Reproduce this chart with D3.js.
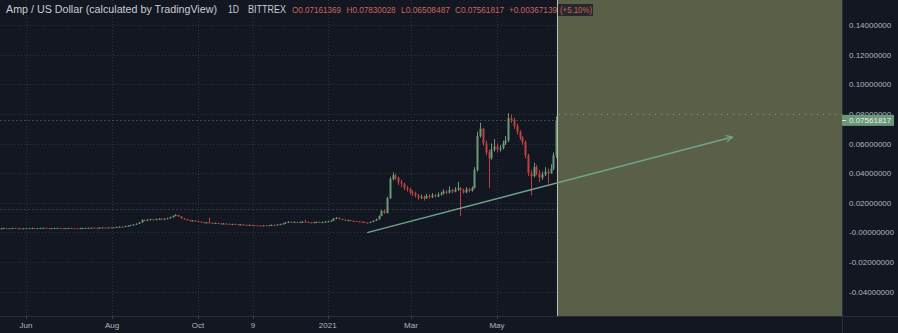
<!DOCTYPE html>
<html>
<head>
<meta charset="utf-8">
<script src="https://cdn.jsdelivr.net/npm/d3@7"></script>
<style>
  html, body { margin: 0; padding: 0; background: #131722; }
  svg { display: block; font-family: "Liberation Sans", Arial, sans-serif; }
</style>
</head>
<body>
<svg id="chart" width="898" height="333"></svg>
<script>
// AMP/USD daily chart (Bittrex), shown here as 2-day candles
// open of each candle = previous close

const startDate = "2020-05-14";
const stepDays = 2;
const firstOpen = 0.0027;

const closes = [
  0.0027,0.0028,0.0026,0.0027,0.0029,0.0028,0.0027,0.0026,0.0027,0.0028,
  0.0028,0.0029,0.0027,0.0028,0.0029,0.0030,0.0028,0.0027,0.0028,0.0029,
  0.0029,0.0028,0.0027,0.0028,0.0029,0.0028,0.0027,0.0026,0.0028,0.0029,
  0.0029,0.0030,0.0031,0.0030,0.0029,0.0031,0.0032,0.0031,0.0033,0.0032,
  0.0034,0.0036,0.0038,0.0037,0.0042,0.0045,0.0049,0.0052,0.0058,0.0066,
  0.0083,0.0078,0.0085,0.0088,0.0084,0.0089,0.0092,0.0087,0.0091,0.0095,
  0.0102,0.0110,0.0117,0.0108,0.0095,0.0088,0.0082,0.0078,0.0080,0.0076,
  0.0072,0.0068,0.0065,0.0067,0.0064,0.0062,0.0063,0.0060,0.0058,0.0059,
  0.0057,0.0055,0.0056,0.0054,0.0052,0.0053,0.0050,0.0049,0.0050,0.0048,
  0.0047,0.0046,0.0045,0.0047,0.0046,0.0048,0.0050,0.0049,0.0052,0.0055,
  0.0060,0.0066,0.0071,0.0068,0.0070,0.0066,0.0069,0.0072,0.0070,0.0067,
  0.0065,0.0068,0.0070,0.0066,0.0069,0.0072,0.0075,0.0079,0.0093,0.0098,
  0.0090,0.0085,0.0080,0.0082,0.0078,0.0076,0.0074,0.0072,0.0070,0.0066,
  0.0064,0.0070,0.0078,0.0088,0.0110,0.0145,0.0130,0.0230,0.0360,0.0385,
  0.0370,0.0340,0.0330,0.0300,0.0290,0.0270,0.0265,0.0250,0.0235,0.0240,
  0.0230,0.0245,0.0238,0.0250,0.0242,0.0255,0.0262,0.0275,0.0268,0.0285,
  0.0275,0.0290,0.0300,0.0285,0.0270,0.0290,0.0280,0.0300,0.0420,0.0650,
  0.0700,0.0600,0.0540,0.0500,0.0560,0.0580,0.0560,0.0570,0.0600,0.0620,
  0.0770,0.0760,0.0720,0.0680,0.0640,0.0610,0.0520,0.0400,0.0380,0.0440,
  0.0400,0.0370,0.0390,0.0410,0.0400,0.0430,0.0520,0.0756
];

const highs = [
  0.0030,0.0031,0.0030,0.0029,0.0031,0.0031,0.0030,0.0029,0.0029,0.0030,
  0.0030,0.0031,0.0030,0.0030,0.0031,0.0032,0.0031,0.0029,0.0030,0.0031,
  0.0031,0.0031,0.0029,0.0030,0.0031,0.0031,0.0029,0.0028,0.0030,0.0031,
  0.0031,0.0032,0.0033,0.0033,0.0031,0.0033,0.0034,0.0034,0.0035,0.0035,
  0.0036,0.0038,0.0040,0.0040,0.0044,0.0047,0.0051,0.0055,0.0060,0.0070,
  0.0088,0.0087,0.0088,0.0091,0.0090,0.0092,0.0095,0.0094,0.0094,0.0098,
  0.0106,0.0114,0.0122,0.0119,0.0110,0.0097,0.0090,0.0084,0.0083,0.0082,
  0.0077,0.0074,0.0070,0.0070,0.0097,0.0066,0.0066,0.0065,0.0062,0.0062,
  0.0061,0.0059,0.0058,0.0058,0.0056,0.0056,0.0055,0.0052,0.0052,0.0052,
  0.0050,0.0049,0.0048,0.0049,0.0049,0.0050,0.0053,0.0052,0.0054,0.0058,
  0.0063,0.0069,0.0074,0.0073,0.0073,0.0072,0.0072,0.0075,0.0085,0.0072,
  0.0069,0.0071,0.0073,0.0072,0.0072,0.0075,0.0078,0.0082,0.0096,0.0102,
  0.0099,0.0092,0.0087,0.0085,0.0084,0.0080,0.0078,0.0076,0.0074,0.0072,
  0.0068,0.0073,0.0081,0.0092,0.0115,0.0150,0.0152,0.0240,0.0375,0.0405,
  0.0395,0.0375,0.0355,0.0335,0.0315,0.0300,0.0285,0.0275,0.0260,0.0255,
  0.0250,0.0260,0.0258,0.0265,0.0260,0.0270,0.0275,0.0290,0.0285,0.0310,
  0.0295,0.0305,0.0340,0.0305,0.0295,0.0305,0.0300,0.0310,0.0440,0.0680,
  0.0740,0.0705,0.0620,0.0560,0.0600,0.0630,0.0600,0.0590,0.0620,0.0650,
  0.0805,0.0795,0.0775,0.0735,0.0690,0.0650,0.0620,0.0530,0.0420,0.0470,
  0.0455,0.0420,0.0410,0.0440,0.0430,0.0460,0.0540,0.0783
];

const lows = [
  0.0025,0.0025,0.0024,0.0025,0.0026,0.0026,0.0025,0.0024,0.0025,0.0026,
  0.0026,0.0026,0.0025,0.0026,0.0027,0.0027,0.0026,0.0025,0.0026,0.0027,
  0.0027,0.0026,0.0025,0.0026,0.0027,0.0026,0.0025,0.0024,0.0025,0.0027,
  0.0027,0.0028,0.0029,0.0028,0.0027,0.0028,0.0030,0.0029,0.0030,0.0030,
  0.0031,0.0033,0.0035,0.0035,0.0036,0.0041,0.0044,0.0048,0.0051,0.0056,
  0.0064,0.0075,0.0076,0.0083,0.0081,0.0082,0.0087,0.0084,0.0085,0.0089,
  0.0093,0.0100,0.0108,0.0104,0.0092,0.0085,0.0079,0.0075,0.0075,0.0073,
  0.0069,0.0065,0.0062,0.0063,0.0061,0.0059,0.0060,0.0058,0.0055,0.0056,
  0.0054,0.0052,0.0053,0.0051,0.0050,0.0050,0.0048,0.0046,0.0047,0.0046,
  0.0045,0.0044,0.0043,0.0044,0.0044,0.0045,0.0047,0.0047,0.0048,0.0051,
  0.0054,0.0058,0.0064,0.0066,0.0066,0.0064,0.0064,0.0067,0.0068,0.0065,
  0.0062,0.0063,0.0066,0.0064,0.0064,0.0067,0.0070,0.0073,0.0077,0.0089,
  0.0087,0.0083,0.0077,0.0077,0.0076,0.0073,0.0071,0.0070,0.0067,0.0064,
  0.0061,0.0062,0.0068,0.0076,0.0086,0.0108,0.0125,0.0128,0.0225,0.0350,
  0.0355,0.0320,0.0305,0.0285,0.0275,0.0255,0.0245,0.0235,0.0220,0.0225,
  0.0215,0.0225,0.0228,0.0232,0.0235,0.0238,0.0248,0.0255,0.0258,0.0262,
  0.0265,0.0270,0.0280,0.0110,0.0262,0.0265,0.0270,0.0275,0.0295,0.0410,
  0.0640,0.0585,0.0520,0.0300,0.0490,0.0545,0.0540,0.0545,0.0560,0.0590,
  0.0610,0.0740,0.0700,0.0660,0.0625,0.0590,0.0500,0.0380,0.0250,0.0370,
  0.0385,0.0340,0.0355,0.0380,0.0330,0.0395,0.0420,0.0500
];

// axes
const priceTicks = [0.14, 0.12, 0.10, 0.08, 0.06, 0.04, 0.02, 0, -0.02, -0.04];
const priceTickLabels = ["0.14000000","0.12000000","0.10000000","0.08000000","0.06000000",
  "0.04000000","0.02000000","-0.00000000","-0.02000000","-0.04000000"];
const timeTicks = ["2020-06-01","2020-08-01","2020-10-01","2020-11-09","2021-01-01","2021-03-01","2021-05-01"];
const timeTickLabels = ["Jun","Aug","Oct","9","2021","Mar","May"];

// drawings
const trendLine = [["2021-01-29", -0.0002], ["2021-10-15", 0.0644]];
const supportLevel = 0.0155;
const athLevel = 0.08;
const zoneStart = "2021-06-12T12:00";
const lastPrice = 0.07561817;
const lastPriceLabel = "0.07561817";

// legend line
const titleText = "Amp / US Dollar (calculated by TradingView)";
const intervalText = "1D";
const exchangeText = "BITTREX";
const ohlcLabels = ["O0.07161369", "H0.07830028", "L0.06508487", "C0.07561817", "+0.00367139", "(+5.10%)"];

// ------------------------------------------------------------------
const W = 898, H = 333;
const plotRight = 842, plotBottom = 316;

const parseDay = d3.timeParse("%Y-%m-%d");
const parseTime = d3.timeParse("%Y-%m-%dT%H:%M");

const x = d3.scaleTime()
  .domain([parseDay("2020-06-01"), parseDay("2021-06-01")])
  .range([26, 540.7]);

const y = d3.scaleLinear()
  .domain([-0.04, 0.14])
  .range([291.5, 25.1]);

const svg = d3.select("#chart");

const start = parseDay(startDate);
const candles = closes.map((c, i) => {
  const open = i === 0 ? firstOpen : closes[i - 1];
  return {
    date: d3.timeDay.offset(start, i * stepDays),
    open: open,
    close: c,
    high: Math.max(highs[i], open, c),
    low: Math.min(lows[i], open, c)
  };
});

const zoneX = x(parseTime(zoneStart));
const gridColor = "#2a2e39";

// grid
const grid = svg.append("g");
grid.selectAll("line.h")
  .data(priceTicks)
  .join("line")
  .attr("x1", 0).attr("x2", plotRight)
  .attr("y1", d => Math.round(y(d)) + 0.5)
  .attr("y2", d => Math.round(y(d)) + 0.5)
  .attr("stroke", "#2e323d")
  .attr("stroke-dasharray", "1,2");

grid.selectAll("line.v")
  .data(timeTicks)
  .join("line")
  .attr("x1", d => Math.round(x(parseDay(d))) + 0.5)
  .attr("x2", d => Math.round(x(parseDay(d))) + 0.5)
  .attr("y1", 0).attr("y2", plotBottom)
  .attr("stroke", "#2e323d")
  .attr("stroke-dasharray", "1,2");

// support level
svg.append("line")
  .attr("x1", 0).attr("x2", zoneX)
  .attr("y1", Math.round(y(supportLevel)) + 0.5)
  .attr("y2", Math.round(y(supportLevel)) + 0.5)
  .attr("stroke", "#363a45")
  .attr("stroke-dasharray", "2,2");

// last price line
svg.append("line")
  .attr("x1", 0).attr("x2", zoneX)
  .attr("y1", Math.round(y(lastPrice)) + 0.5)
  .attr("y2", Math.round(y(lastPrice)) + 0.5)
  .attr("stroke", "#3b4a45")
  .attr("stroke-dasharray", "2,2");

// candles
const green = "#6a9a76", red = "#b8443f";
const cg = svg.append("g");
const bodyW = 2;

cg.selectAll("line.wick")
  .data(candles)
  .join("line")
  .attr("x1", d => Math.round(x(d.date)) + 0.5)
  .attr("x2", d => Math.round(x(d.date)) + 0.5)
  .attr("y1", d => y(d.high))
  .attr("y2", d => y(d.low))
  .attr("stroke", d => d.close >= d.open ? green : red)
  .attr("stroke-width", 1);

cg.selectAll("rect.body")
  .data(candles)
  .join("rect")
  .attr("x", d => Math.round(x(d.date)) - 0.5)
  .attr("y", d => y(Math.max(d.open, d.close)))
  .attr("width", bodyW)
  .attr("height", d => Math.max(1, Math.abs(y(d.open) - y(d.close))))
  .attr("fill", d => d.close >= d.open ? green : red);

// projection zone
svg.append("rect")
  .attr("x", zoneX)
  .attr("y", 0)
  .attr("width", plotRight - zoneX)
  .attr("height", plotBottom)
  .attr("fill", "#596047");

svg.append("line")
  .attr("x1", Math.round(zoneX) + 0.5).attr("x2", Math.round(zoneX) + 0.5)
  .attr("y1", 0).attr("y2", plotBottom)
  .attr("stroke", "#b9bdb5")
  .attr("stroke-width", 1);

svg.append("line")
  .attr("x1", zoneX + 2).attr("x2", plotRight)
  .attr("y1", Math.round(y(athLevel)) + 0.5)
  .attr("y2", Math.round(y(athLevel)) + 0.5)
  .attr("stroke", "#86a983")
  .attr("stroke-dasharray", "1,5");

// trend line with arrow
const trendColor = "#6fa58c";
const defs = svg.append("defs");
defs.append("marker")
  .attr("id", "arrow")
  .attr("viewBox", "0 0 10 10")
  .attr("refX", 9).attr("refY", 5)
  .attr("markerWidth", 8).attr("markerHeight", 8)
  .attr("markerUnits", "userSpaceOnUse")
  .attr("orient", "auto")
  .append("path")
  .attr("d", "M1,1 L9,5 L1,9")
  .attr("fill", "none")
  .attr("stroke", trendColor)
  .attr("stroke-width", 1.6);

svg.append("path")
  .datum(trendLine)
  .attr("d", d3.line().x(d => x(parseDay(d[0]))).y(d => y(d[1])))
  .attr("fill", "none")
  .attr("stroke", trendColor)
  .attr("stroke-width", 1.4)
  .attr("marker-end", "url(#arrow)");

// separators
svg.append("line")
  .attr("x1", 0).attr("x2", W)
  .attr("y1", plotBottom + 0.5).attr("y2", plotBottom + 0.5)
  .attr("stroke", gridColor);
svg.append("line")
  .attr("x1", plotRight + 0.5).attr("x2", plotRight + 0.5)
  .attr("y1", 0).attr("y2", H)
  .attr("stroke", gridColor);

// price axis labels (the 0.08 one sits behind the last-price box)
const labelColor = "#b2b5be";
svg.append("g").selectAll("text")
  .data(priceTicks)
  .join("text")
  .attr("x", 849)
  .attr("y", d => y(d) + 3)
  .attr("fill", labelColor)
  .attr("font-size", 8)
  .text((d, i) => priceTickLabels[i]);

// last price marker
const lpY = y(lastPrice);
svg.append("rect")
  .attr("x", plotRight)
  .attr("y", lpY - 5.5)
  .attr("width", 52)
  .attr("height", 11)
  .attr("fill", "#6b977a");
svg.append("line")
  .attr("x1", plotRight).attr("x2", plotRight + 4)
  .attr("y1", Math.round(lpY) + 0.5).attr("y2", Math.round(lpY) + 0.5)
  .attr("stroke", "#d8e4da");
svg.append("text")
  .attr("x", 849)
  .attr("y", lpY + 3)
  .attr("fill", "#e6eee8")
  .attr("font-size", 8)
  .text(lastPriceLabel);

// time axis labels
svg.append("g").selectAll("text")
  .data(timeTicks)
  .join("text")
  .attr("x", d => x(parseDay(d)))
  .attr("y", 328)
  .attr("text-anchor", "middle")
  .attr("fill", labelColor)
  .attr("font-size", 8)
  .text((d, i) => timeTickLabels[i]);

svg.append("g").selectAll("line")
  .data(timeTicks)
  .join("line")
  .attr("x1", d => Math.round(x(parseDay(d))) + 0.5)
  .attr("x2", d => Math.round(x(parseDay(d))) + 0.5)
  .attr("y1", plotBottom).attr("y2", plotBottom + 3)
  .attr("stroke", "#3a3e49");

// legend: squeeze each piece into the width it takes in the screenshot
const legend = svg.append("g").attr("font-size", 10);

// dark highlight behind the percent change
legend.append("rect")
  .attr("x", 558).attr("y", 4)
  .attr("width", 35).attr("height", 12)
  .attr("fill", "#1c2029")
  .attr("opacity", 0.85);

const headPieces = [
  { text: titleText, x: 6, w: 211, color: "#c9ccd4", size: 10 },
  { text: intervalText, x: 228, w: 11, color: "#c9ccd4", size: 10 },
  { text: exchangeText, x: 248, w: 38, color: "#c9ccd4", size: 10 }
];
const ohlcX = [292, 346.5, 401, 455, 509, 560];
const ohlcW = [49, 49, 49, 49, 48, 32];
ohlcLabels.forEach((t, i) => {
  headPieces.push({ text: t, x: ohlcX[i], w: ohlcW[i], color: "#d0625d", size: 8.6 });
});

legend.selectAll("text")
  .data(headPieces)
  .join("text")
  .attr("x", d => d.x)
  .attr("y", 13)
  .attr("font-size", d => d.size)
  .attr("fill", d => d.color)
  .attr("textLength", d => d.w)
  .attr("lengthAdjust", "spacingAndGlyphs")
  .text(d => d.text);
</script>
</body>
</html>
